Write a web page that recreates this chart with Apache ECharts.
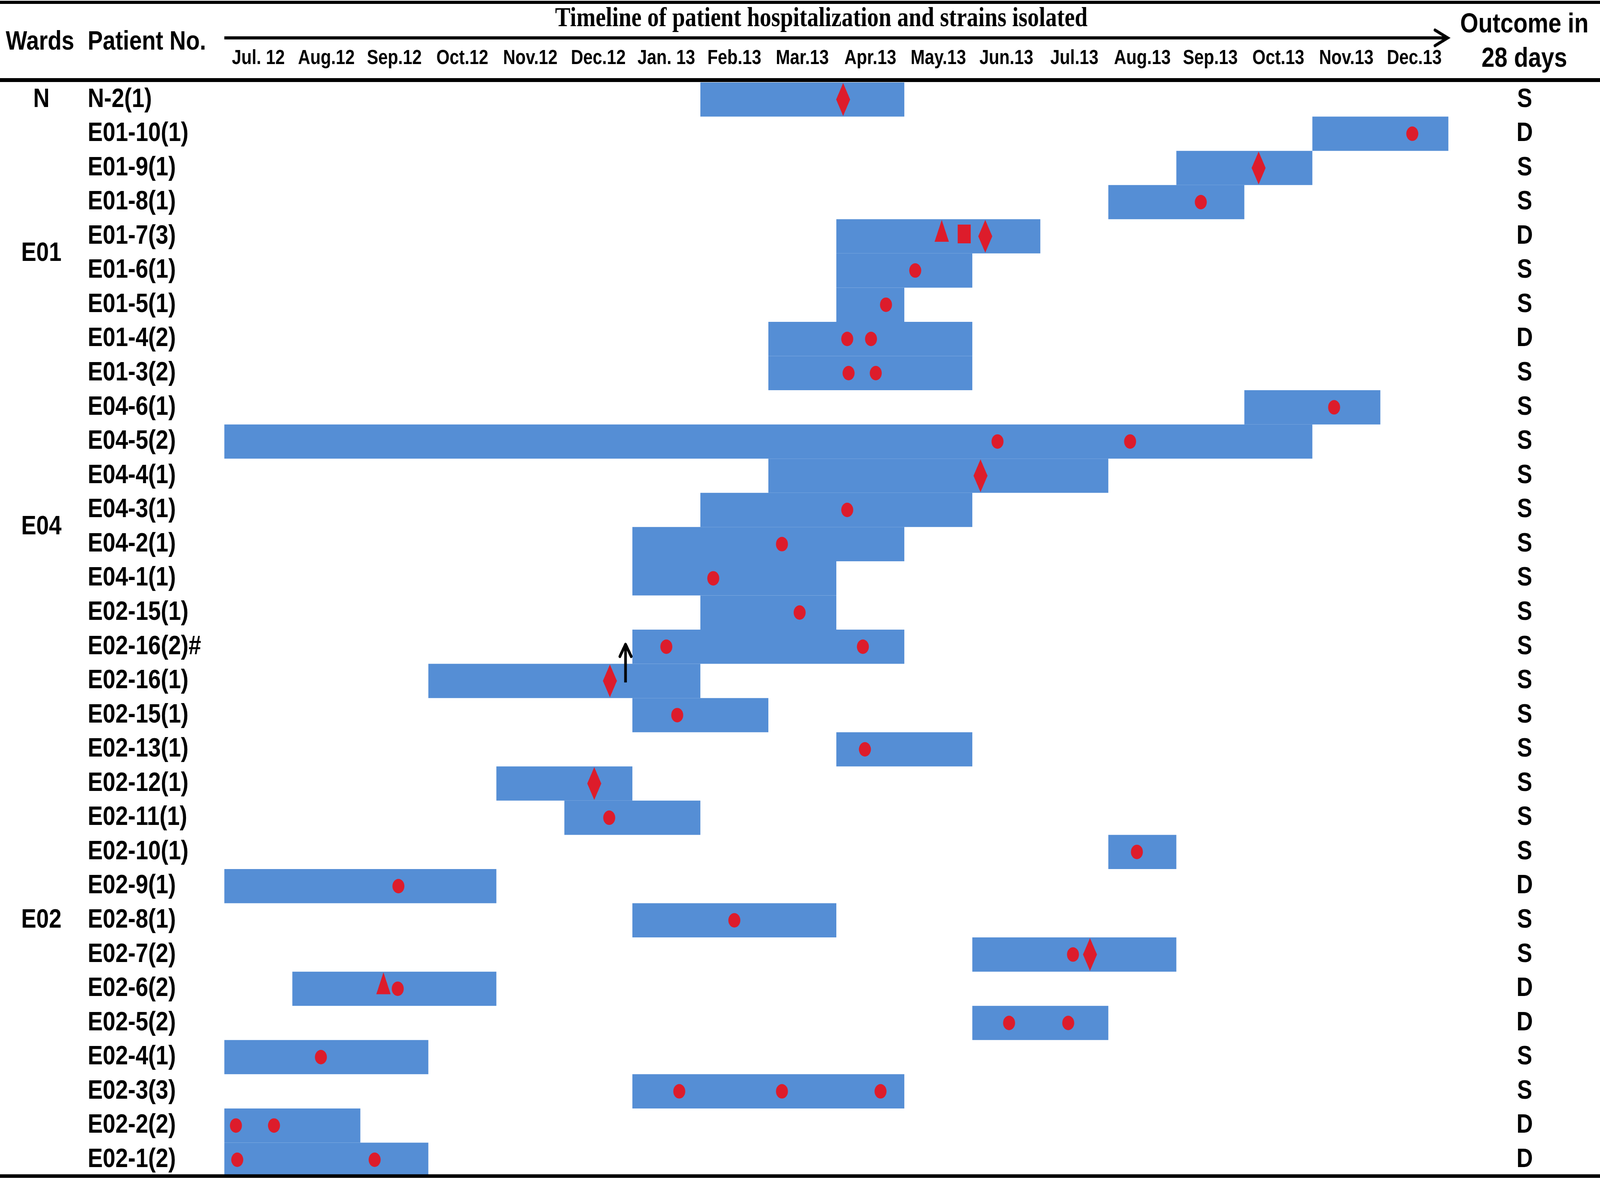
<!DOCTYPE html>
<html>
<head>
<meta charset="utf-8">
<script src="https://cdn.jsdelivr.net/npm/echarts@6/dist/echarts.min.js"></script>
<style>
html,body{margin:0;padding:0;background:#fff;overflow:hidden}
#c{width:4800px;height:3016px;transform-origin:0 0}
</style>
</head>
<body>
<div id="c"></div>
<script>
// ---------- data ----------
const months = ['Jul. 12','Aug.12','Sep.12','Oct.12','Nov.12','Dec.12','Jan. 13','Feb.13','Mar.13','Apr.13','May.13','Jun.13','Jul.13','Aug.13','Sep.13','Oct.13','Nov.13','Dec.13'];
const patients = ['N-2(1)','E01-10(1)','E01-9(1)','E01-8(1)','E01-7(3)','E01-6(1)','E01-5(1)','E01-4(2)','E01-3(2)',
  'E04-6(1)','E04-5(2)','E04-4(1)','E04-3(1)','E04-2(1)','E04-1(1)',
  'E02-15(1)','E02-16(2)#','E02-16(1)','E02-15(1)','E02-13(1)','E02-12(1)','E02-11(1)','E02-10(1)','E02-9(1)','E02-8(1)','E02-7(2)','E02-6(2)','E02-5(2)','E02-4(1)','E02-3(3)','E02-2(2)','E02-1(2)'];
const outcomes = ['S','D','S','S','D','S','S','D','S',
  'S','S','S','S','S','S',
  'S','S','S','S','S','S','S','S','D','S','S','D','D','S','S','D','D'];
const wardNames = ['N','E01','E04','E02'];
const wardRows = [0, 4.5, 12.5, 24];
// hospital stays: [row, start month, end month] (0 = start of Jul.12)
const stays = [[0,7,10],[1,16,18],[2,14,16],[3,13,15],[4,9,12],[5,9,11],[6,9,10],[7,8,11],[8,8,11],
  [9,15,17],[10,0,16],[11,8,13],[12,7,11],[13,6,10],[14,6,9],
  [15,7,9],[16,6,10],[17,3,7],[18,6,8],[19,9,11],[20,4,6],[21,5,7],[22,13,14],[23,0,4],[24,6,9],[25,11,14],[26,1,4],[27,11,13],[28,0,3],[29,6,10],[30,0,2],[31,0,3]];
// strains isolated: [month position, row]
const circles = [[17.47,1],[14.36,3],[10.16,5],[9.73,6],[9.16,7],[9.51,7],[9.18,8],[9.58,8],
  [16.32,9],[11.37,10],[13.32,10],[9.16,12],[8.20,13],[7.19,14],
  [8.46,15],[6.50,16],[9.39,16],[6.66,18],[9.42,19],[5.66,21],[13.42,22],[2.56,23],[7.50,24],[12.48,25],[2.55,26],
  [11.54,27],[12.41,27],[1.42,28],[6.69,29],[8.20,29],[9.65,29],[0.17,30],[0.73,30],[0.19,31],[2.21,31]];
const diamonds = [[9.10,0],[15.21,2],[11.19,4],[11.12,11],[5.67,17],[5.44,20],[12.73,25]];
const triangles = [[10.55,4],[2.34,26]];
const squares = [[10.88,4]];
// annotation arrow: [month position, from row, to row]
const arrows = [[5.90,17,16]];

// ---------- fit the 4800x3016 drawing into the actual window ----------
const BASE_W = 4800, BASE_H = 3016;
const box = document.getElementById('c');
const sx = Math.min(1, (window.innerWidth || BASE_W) / BASE_W);
const sy = Math.min(1, (window.innerHeight || BASE_H) / BASE_H);
box.style.transform = 'scale(' + sx + ',' + sy + ')';

// ---------- chart ----------
const SANS = "'Liberation Sans', Arial, sans-serif";
const SERIF = "'Liberation Serif', 'Times New Roman', serif";
const chart = echarts.init(box, null, {renderer:'canvas', width:BASE_W, height:BASE_H});

const option = {
  animation: false,
  backgroundColor: '#ffffff',
  grid: {left: 673, right: 455, top: 211, bottom: 3, containLabel: false, outerBoundsMode: 'none'},
  xAxis: [
    {type:'value', position:'bottom', min:0, max:18, show:false, splitLine:{show:false}},
    {type:'category', position:'top', data: months, boundaryGap:true,
     axisLine:{show:false}, axisTick:{show:false}, splitLine:{show:false},
     axisLabel:{interval:0, margin:61, verticalAlign:'middle', fontFamily:SANS, fontWeight:'bold', fontSize:51, color:'#000'}}
  ],
  yAxis: [
    {type:'category', position:'left', inverse:true, data: patients,
     axisLine:{show:false}, axisTick:{show:false}, splitLine:{show:false},
     axisLabel:{interval:0, margin:410, align:'left', fontFamily:SANS, fontWeight:'bold', fontSize:68, color:'#000'}},
    {type:'category', position:'right', inverse:true, data: outcomes,
     axisLine:{show:false}, axisTick:{show:false}, splitLine:{show:false},
     axisLabel:{interval:0, margin:229, align:'center', fontFamily:SANS, fontWeight:'bold', fontSize:68, color:'#000'}}
  ],
  series: [
    {type:'custom', name:'stay', xAxisIndex:0, yAxisIndex:0, z:2,
     data: stays, encode:{x:[1,2], y:0},
     renderItem: function(params, api){
       const row = api.value(0);
       const p0 = api.coord([api.value(1), row]);
       const p1 = api.coord([api.value(2), row]);
       const h = api.size([0,1])[1];
       return {type:'rect', shape:{x:p0[0], y:p0[1]-h/2, width:p1[0]-p0[0], height:h},
               style:{fill:'#558ED5'}};
     }},
    {type:'scatter', name:'circle', xAxisIndex:0, yAxisIndex:0, z:3, data: circles,
     symbol:'circle', symbolSize:[36,37], itemStyle:{color:'#FF0000'}},
    {type:'scatter', name:'diamond', xAxisIndex:0, yAxisIndex:0, z:3, data: diamonds,
     symbol:'diamond', symbolSize:[42,84], itemStyle:{color:'#FF0000'}},
    {type:'scatter', name:'triangle', xAxisIndex:0, yAxisIndex:0, z:3, data: triangles,
     symbol:'triangle', symbolSize:[43,56], symbolOffset:[0,-14], itemStyle:{color:'#FF0000'}},
    {type:'scatter', name:'square', xAxisIndex:0, yAxisIndex:0, z:3, data: squares,
     symbol:'rect', symbolSize:[39,48], symbolOffset:[0,-6], itemStyle:{color:'#FF0000'}},
    {type:'custom', name:'arrow', xAxisIndex:0, yAxisIndex:0, z:4,
     data: arrows, encode:{x:0, y:[1,2]},
     renderItem: function(params, api){
       const x = api.value(0);
       const a = api.coord([x, api.value(1)]);
       const b = api.coord([x, api.value(2)]);
       const tipY = b[1] - 8;
       const st = {stroke:'#000', lineWidth:8, lineCap:'round', lineJoin:'round', fill:null};
       return {type:'group', children:[
         {type:'line', shape:{x1:a[0], y1:a[1]+4, x2:a[0], y2:tipY+4}, style:{stroke:'#000', lineWidth:8}},
         {type:'polyline', shape:{points:[[a[0]-17, tipY+33],[a[0], tipY+2],[a[0]+17, tipY+33]]}, style:st}
       ]};
     }}
  ]
};
chart.setOption(option);

// ---------- header decorations & ward labels ----------
const xStart = chart.convertToPixel({xAxisIndex:0}, 0);
const xEnd = chart.convertToPixel({xAxisIndex:0}, 18);
function rowY(r){
  const f = Math.floor(r), c = Math.ceil(r);
  const y0 = chart.convertToPixel({yAxisIndex:0}, f);
  const y1 = chart.convertToPixel({yAxisIndex:0}, c);
  return y0 + (y1 - y0) * (r - f);
}
const graphics = [
  {type:'line', z:10, shape:{x1:0, y1:6, x2:BASE_W, y2:6}, style:{stroke:'#000', lineWidth:8}},
  {type:'line', z:10, shape:{x1:0, y1:205, x2:BASE_W, y2:205}, style:{stroke:'#000', lineWidth:10}},
  {type:'line', z:10, shape:{x1:0, y1:3011, x2:BASE_W, y2:3011}, style:{stroke:'#000', lineWidth:9}},
  {type:'line', z:10, shape:{x1:xStart, y1:97, x2:xEnd-3, y2:97}, style:{stroke:'#000', lineWidth:8}},
  {type:'polyline', z:10, shape:{points:[[xEnd-40, 77],[xEnd-2, 97],[xEnd-40, 117]]},
   style:{stroke:'#000', lineWidth:8, lineCap:'round', lineJoin:'miter', fill:null}},
  {type:'text', z:10, x:2464, y:49,
   style:{text:'Timeline of patient hospitalization and strains isolated', font:'bold 69px ' + SERIF,
          fill:'#000', align:'center', verticalAlign:'middle'}},
  {type:'text', z:10, x:120, y:108,
   style:{text:'Wards', font:'bold 68px ' + SANS, fill:'#000', align:'center', verticalAlign:'middle'}},
  {type:'text', z:10, x:263, y:108,
   style:{text:'Patient No.', font:'bold 68px ' + SANS, fill:'#000', align:'left', verticalAlign:'middle'}},
  {type:'text', z:10, x:4573, y:64,
   style:{text:'Outcome in', font:'bold 70px ' + SANS, fill:'#000', align:'center', verticalAlign:'middle'}},
  {type:'text', z:10, x:4573, y:152,
   style:{text:'28 days', font:'bold 70px ' + SANS, fill:'#000', align:'center', verticalAlign:'middle'}}
];
wardNames.forEach(function(name, i){
  graphics.push({type:'text', z:10, x:124, y:rowY(wardRows[i]),
    style:{text:name, font:'bold 68px ' + SANS, fill:'#000', align:'center', verticalAlign:'middle'}});
});
chart.setOption({graphic: graphics});
</script>
</body>
</html>
